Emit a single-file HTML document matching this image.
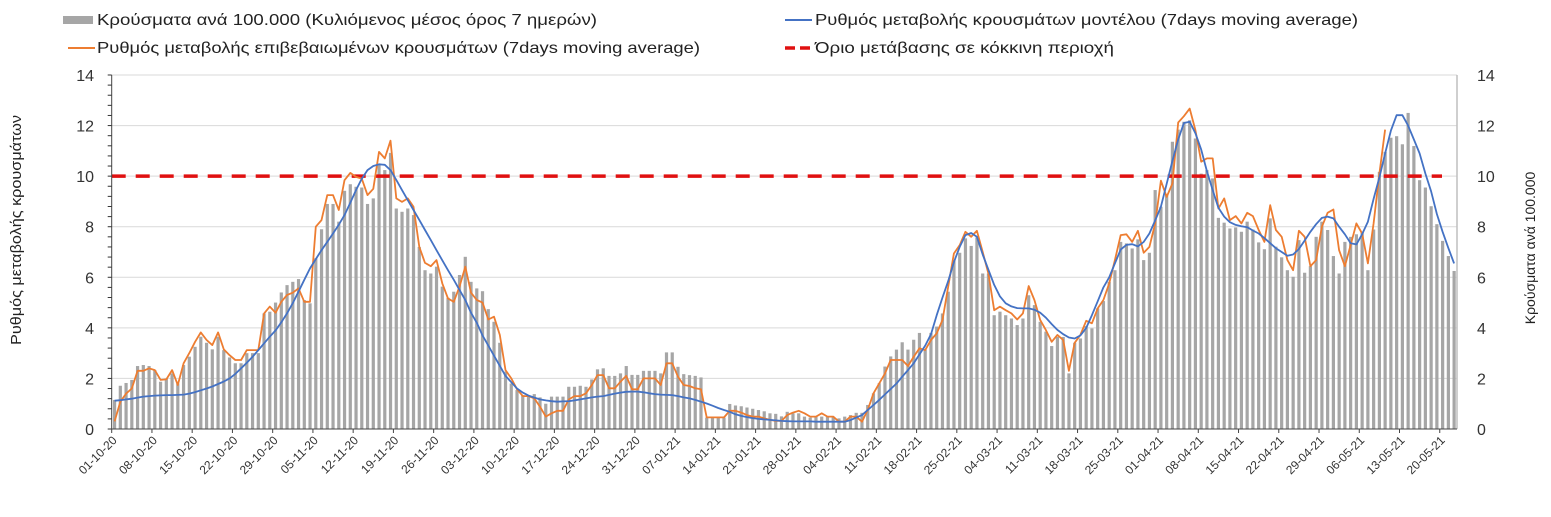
<!DOCTYPE html>
<html><head><meta charset="utf-8">
<style>
html,body{margin:0;padding:0;background:#fff;}
body{width:1551px;height:512px;overflow:hidden;font-family:"Liberation Sans","DejaVu Sans",sans-serif;}
svg text{font-family:"Liberation Sans","DejaVu Sans",sans-serif;}
</style></head>
<body>
<svg id="chart" width="1551" height="512" viewBox="0 0 1551 512" xmlns="http://www.w3.org/2000/svg">
<g id="grid"></g>
<g id="bars"></g>
<g id="lines"></g>
<g id="axes"></g>
<g id="legend">
  <rect x="63" y="16" width="30" height="8" fill="#a6a6a6"/>
  <text x="97" y="25" font-size="16" fill="#222" textLength="500" lengthAdjust="spacingAndGlyphs">Κρούσματα ανά 100.000 (Κυλιόμενος μέσος όρος 7 ημερών)</text>
  <line x1="785" y1="20" x2="812" y2="20" stroke="#4472c4" stroke-width="2"/>
  <text x="815" y="25" font-size="16" fill="#222" textLength="543" lengthAdjust="spacingAndGlyphs">Ρυθμός μεταβολής κρουσμάτων μοντέλου (7days moving average)</text>
  <line x1="68" y1="48" x2="95" y2="48" stroke="#ed7d31" stroke-width="2"/>
  <text x="97" y="53" font-size="16" fill="#222" textLength="603" lengthAdjust="spacingAndGlyphs">Ρυθμός μεταβολής επιβεβαιωμένων κρουσμάτων (7days moving average)</text>
  <line x1="785" y1="48" x2="812" y2="48" stroke="#e01010" stroke-width="3.5" stroke-dasharray="10 5"/>
  <text x="815" y="53" font-size="16" fill="#222" textLength="299" lengthAdjust="spacingAndGlyphs">Όριο μετάβασης σε κόκκινη περιοχή</text>
</g>
<text transform="translate(21,230) rotate(-90)" text-anchor="middle" font-size="15" fill="#222" textLength="230" lengthAdjust="spacingAndGlyphs">Ρυθμός μεταβολής κρουσμάτων</text>
<text transform="translate(1535,248) rotate(-90)" text-anchor="middle" font-size="14" fill="#222">Κρούσματα ανά 100.000</text>
</svg>
<script>
const startLabels = ["01-10-20","08-10-20","15-10-20","22-10-20","29-10-20","05-11-20","12-11-20","19-11-20","26-11-20","03-12-20","10-12-20","17-12-20","24-12-20","31-12-20","07-01-21","14-01-21","21-01-21","28-01-21","04-02-21","11-02-21","18-02-21","25-02-21","04-03-21","11-03-21","18-03-21","25-03-21","01-04-21","08-04-21","15-04-21","22-04-21","29-04-21","06-05-21","13-05-21","20-05-21"];
const yTicks = [0,2,4,6,8,10,12,14];
const threshold = 10;
const cases = [1.15,1.71,1.82,1.94,2.49,2.53,2.49,2.33,1.87,2.0,2.2,1.8,2.53,2.86,3.25,3.65,3.41,3.15,3.65,3.12,2.83,2.6,2.6,3.0,3.0,3.0,4.57,4.64,5.0,5.4,5.69,5.82,5.93,5.1,4.97,6.75,7.9,8.9,8.9,8.2,9.42,9.68,9.58,9.55,8.9,9.12,10.5,10.24,10.92,8.72,8.59,8.72,8.46,7.2,6.28,6.15,6.42,5.63,5.19,5.43,
6.09,6.81,5.82,5.56,5.45,4.74,4.24,3.41,2.27,1.8,1.54,1.34,1.3,1.38,1.25,1.0,1.28,1.28,1.28,1.67,1.67,1.71,1.67,1.96,2.36,2.4,2.1,2.1,2.2,2.49,2.14,2.14,2.3,2.3,2.3,2.2,3.03,3.03,2.46,2.17,2.13,2.1,2.04,0.45,0.45,0.45,0.45,0.99,0.93,0.9,0.85,0.8,0.75,0.7,0.62,0.6,
0.5,0.68,0.62,0.62,0.49,0.45,0.49,0.49,0.49,0.46,0.42,0.49,0.55,0.64,0.64,0.95,1.41,1.81,2.47,2.87,3.14,3.43,3.14,3.53,3.8,3.14,3.8,4.05,4.57,5.43,6.68,6.97,7.54,7.24,7.58,6.15,6.15,4.5,4.64,4.5,4.37,4.11,4.37,5.29,4.9,4.24,3.85,3.28,3.64,3.64,2.2,3.41,3.58,4.07,3.98,4.77,5.06,5.82,6.28,7.4,
7.34,7.14,7.5,6.68,6.97,9.45,8.79,9.29,11.36,11.84,12.15,12.21,11.49,10.1,10.24,9.91,8.35,8.16,7.93,7.97,7.8,8.2,7.89,7.38,7.11,8.33,7.21,6.79,6.28,6.02,7.47,6.18,6.44,7.6,8.2,7.87,6.84,6.15,7.4,7.6,7.7,7.8,6.28,7.89,10.17,10.96,11.52,11.58,11.26,12.5,11.19,9.84,9.55,8.81,8.1,7.44,6.84,6.25];
const confirmedRate = [0.3,1.08,1.4,1.6,2.3,2.3,2.4,2.33,1.94,1.96,2.33,1.74,2.6,3.0,3.45,3.82,3.52,3.32,3.82,3.15,2.92,2.73,2.73,3.12,3.12,3.12,4.57,4.84,4.6,5.03,5.3,5.39,5.56,5.03,5.03,8.0,8.26,9.25,9.25,8.66,9.84,10.13,9.97,9.9,9.25,9.5,10.96,10.7,11.4,9.12,8.98,9.12,8.79,7.2,6.57,6.44,6.68,5.76,5.16,5.03,
5.63,6.42,5.39,5.1,5.0,4.33,4.44,3.72,2.33,2.0,1.57,1.3,1.3,1.21,0.88,0.49,0.62,0.72,0.72,1.17,1.3,1.3,1.41,1.74,2.13,2.13,1.61,1.61,1.87,2.1,1.57,1.57,2.0,2.0,2.0,1.74,2.6,2.6,2.07,1.74,1.7,1.61,1.57,0.46,0.46,0.46,0.46,0.72,0.72,0.65,0.55,0.49,0.49,0.42,0.36,0.32,
0.32,0.55,0.65,0.72,0.62,0.49,0.49,0.62,0.49,0.49,0.29,0.29,0.49,0.49,0.29,0.75,1.41,1.8,2.2,2.73,2.73,2.73,2.49,2.86,3.19,3.12,3.52,3.78,4.31,5.63,6.94,7.27,7.8,7.6,7.84,7.0,6.15,4.7,4.84,4.7,4.57,4.33,4.57,5.65,5.1,4.31,3.91,3.45,3.72,3.52,2.3,3.41,3.72,4.28,4.18,4.77,5.1,5.76,6.68,7.67,
7.7,7.4,7.84,6.97,7.2,8.13,9.82,9.18,9.71,12.12,12.37,12.67,11.82,10.57,10.7,10.7,8.72,9.12,8.26,8.42,8.13,8.55,8.42,7.87,7.4,8.85,7.87,7.6,6.68,6.28,7.84,7.6,6.44,6.68,8.0,8.55,8.68,7.07,6.44,7.27,8.13,7.73,6.55,8.13,10.1,11.84];
const modelRate = [1.12,1.14,1.17,1.2,1.24,1.28,1.3,1.32,1.33,1.34,1.34,1.35,1.36,1.4,1.46,1.53,1.6,1.68,1.78,1.88,2.0,2.18,2.4,2.62,2.86,3.12,3.39,3.65,3.9,4.22,4.57,4.98,5.43,5.9,6.35,6.72,7.07,7.4,7.73,8.08,8.46,8.95,9.45,9.9,10.24,10.4,10.47,10.45,10.24,9.85,9.45,9.05,8.66,8.27,7.87,7.47,7.07,6.67,6.28,5.9,
5.5,5.1,4.6,4.2,3.7,3.3,2.9,2.5,2.1,1.85,1.6,1.44,1.32,1.24,1.17,1.13,1.1,1.08,1.09,1.1,1.13,1.17,1.21,1.25,1.28,1.3,1.35,1.4,1.44,1.47,1.48,1.48,1.45,1.41,1.38,1.36,1.35,1.34,1.3,1.25,1.21,1.15,1.08,1.01,0.92,0.83,0.75,0.68,0.58,0.52,0.47,0.43,0.4,0.38,0.36,0.34,
0.32,0.31,0.3,0.3,0.3,0.3,0.29,0.29,0.29,0.29,0.29,0.29,0.35,0.45,0.55,0.75,0.95,1.15,1.37,1.58,1.8,2.07,2.33,2.6,2.95,3.3,3.75,4.5,5.2,5.85,6.6,7.2,7.67,7.75,7.6,6.9,6.3,5.7,5.25,4.97,4.85,4.78,4.77,4.77,4.72,4.6,4.4,4.15,3.92,3.75,3.62,3.58,3.7,4.0,4.5,5.05,5.6,6.0,6.55,7.1,
7.28,7.31,7.22,7.4,7.73,8.25,8.79,9.7,10.6,11.45,12.1,12.15,11.7,11.05,10.2,9.45,8.75,8.4,8.18,8.07,8.02,7.98,7.85,7.73,7.55,7.35,7.15,7.0,6.85,6.9,7.12,7.45,7.8,8.1,8.35,8.4,8.33,8.0,7.7,7.35,7.3,7.7,8.2,9.1,9.95,10.9,11.8,12.41,12.41,12.0,11.45,10.9,10.1,9.4,8.5,7.8,7.15,6.55];

const NS='http://www.w3.org/2000/svg';
const X0=111.7, X1=1457, Y0=429, YTOP=75, YMAX=14;
const N=cases.length, step=(X1-X0)/N;
function xAt(i){return X0+step*(i+0.5);}
function yAt(v){return Y0-(v/YMAX)*(Y0-YTOP);}
function mk(tag,attrs,parent){const e=document.createElementNS(NS,tag);for(const k in attrs)e.setAttribute(k,attrs[k]);parent.appendChild(e);return e;}
const grid=document.getElementById('grid'),bars=document.getElementById('bars'),lines=document.getElementById('lines'),axes=document.getElementById('axes');

yTicks.forEach(t=>{
  const y=yAt(t);
  if(t>0){const g=mk('line',{x1:X0,x2:X1,y1:y,y2:y,stroke:'#d9d9d9','stroke-width':1},grid);
  
  }
  const l=mk('text',{x:94,y:y+6,'text-anchor':'end','font-size':16,fill:'#333'},axes);l.textContent=t;
  
  
  const r=mk('text',{x:1477,y:y+6,'font-size':16,fill:'#333'},axes);r.textContent=t;
  
  
});
for(let v=0;v<=YMAX+0.001;v+=0.4){
  const y=yAt(v);
  const m=mk('line',{x1:X0-4,x2:X0,y1:y,y2:y,stroke:'#333','stroke-width':1},axes);
  
  
}

cases.forEach((v,i)=>{
  const r=mk('rect',{x:xAt(i)-1.6,y:yAt(v),width:3.2,height:Y0-yAt(v),fill:'#a6a6a6'},bars);
  
  
});

const th=mk('line',{x1:X0,x2:1442,y1:yAt(threshold),y2:yAt(threshold),stroke:'#e01010','stroke-width':3.5,'stroke-dasharray':'14 10'},lines);



function path(arr){return arr.map((v,i)=>(i?'L':'M')+xAt(i).toFixed(1)+','+yAt(v).toFixed(1)).join('');}
const po=mk('path',{d:path(confirmedRate),fill:'none',stroke:'#ed7d31','stroke-width':1.8,'stroke-linejoin':'round'},lines);


const pb=mk('path',{d:path(modelRate),fill:'none',stroke:'#4472c4','stroke-width':1.8,'stroke-linejoin':'round'},lines);



const la=mk('line',{x1:X0,x2:X0,y1:YTOP,y2:Y0,stroke:'#444','stroke-width':1},axes);


const ra=mk('line',{x1:X1,x2:X1,y1:YTOP,y2:Y0,stroke:'#bfbfbf','stroke-width':1.5},axes);


const xa=mk('line',{x1:X0,x2:X1,y1:Y0,y2:Y0,stroke:'#444','stroke-width':1},axes);


startLabels.forEach((s,k)=>{
  const i=k*7;
  const tx=X0+step*i;
  const tk=mk('line',{x1:tx,x2:tx,y1:Y0,y2:Y0+4,stroke:'#444','stroke-width':1},axes);
  
  
  const x=xAt(i)+3, y=Y0+12;
  const t=mk('text',{x:x,y:y,'text-anchor':'end','font-size':12,fill:'#333',transform:'rotate(-45 '+x+' '+y+')'},axes);
  t.textContent=s;
  
  
});
</script>
</body></html>
